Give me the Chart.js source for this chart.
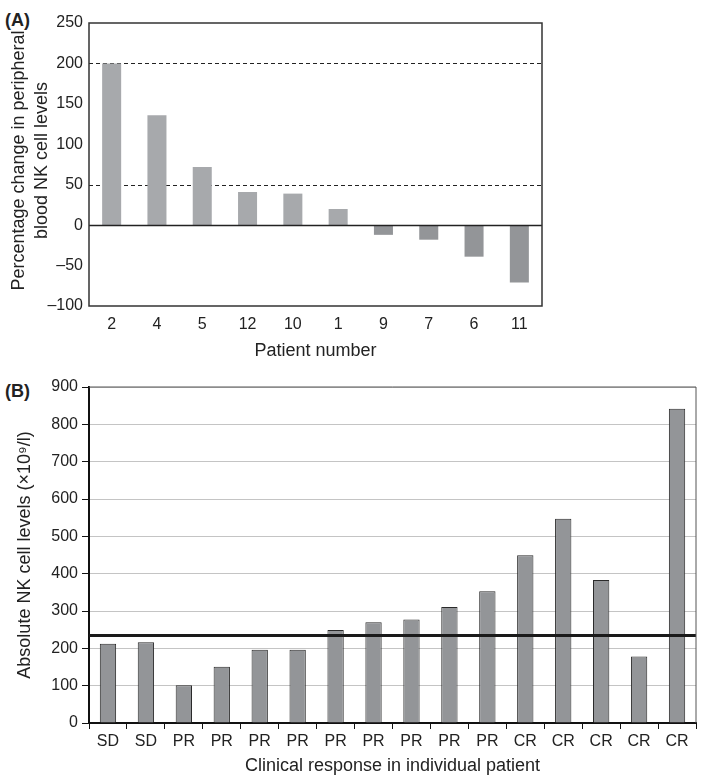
<!DOCTYPE html>
<html>
<head>
<meta charset="utf-8">
<script src="https://cdn.jsdelivr.net/npm/chart.js@4.4.1/dist/chart.umd.min.js"></script>
<style>
  body { margin: 0; background: #fff; font-family: "Liberation Sans", Arial, sans-serif; }
  #wrap { position: relative; width: 704px; height: 784px; }
  .panel { position: absolute; left: 5px; font-weight: bold; font-size: 18px; line-height: 1; color: #222; }
  #cA { position: absolute; left: 0; top: 0; }
  #cB { position: absolute; left: 0; top: 365px; }
</style>
</head>
<body>
<div id="wrap">
  <div class="panel" style="top:11px">(A)</div>
  <div class="panel" style="top:382px">(B)</div>
  <canvas id="cA" width="704" height="365"></canvas>
  <canvas id="cB" width="704" height="419"></canvas>
</div>
<script>
// Panel A - cambio porcentual por paciente
const pacientesA = ['2', '4', '5', '12', '10', '1', '9', '7', '6', '11'];
const cambioA = [200, 136, 72, 41, 39, 20, -12, -18, -39, -71];
const lineasDiscontinuasA = [200, 50];
const tituloYA = ['Percentage change in peripheral', 'blood NK cell levels'];

// Panel B - niveles absolutos por respuesta clínica
const respuestasB = ['SD', 'SD', 'PR', 'PR', 'PR', 'PR', 'PR', 'PR', 'PR', 'PR', 'PR', 'CR', 'CR', 'CR', 'CR', 'CR'];
const nivelesB = [212, 216, 101, 151, 196, 196, 249, 270, 277, 311, 353, 449, 547, 383, 178, 842];
const umbralB = 237;

const fuente = "'Liberation Sans', Arial, sans-serif";
const colorTexto = '#222';

// dibuja líneas horizontales de referencia y el marco del área
const lineasRef = {
  id: 'lineasRef',
  beforeDatasetsDraw(chart, args, opts) {
    dibujar(chart, (opts.lineas || []).filter(l => !l.encima));
  },
  afterDatasetsDraw(chart, args, opts) {
    dibujar(chart, (opts.lineas || []).filter(l => l.encima));
    const a = chart.chartArea;
    const ctx = chart.ctx;
    if (opts.marco) {
      ctx.save();
      ctx.strokeStyle = opts.marco.color;
      ctx.lineWidth = opts.marco.ancho;
      ctx.beginPath();
      if (opts.marco.todo) {
        ctx.rect(a.left, a.top, a.right - a.left, a.bottom - a.top);
      } else {
        ctx.moveTo(a.left, a.top);
        ctx.lineTo(a.right, a.top);
        ctx.lineTo(a.right, a.bottom);
      }
      ctx.stroke();
      ctx.restore();
    }
    // título vertical de varias líneas
    if (opts.tituloY) {
      const t = opts.tituloY;
      const cy = (a.top + a.bottom) / 2 + (t.desplazamiento || 0);
      ctx.save();
      ctx.fillStyle = colorTexto;
      ctx.font = t.tam + 'px ' + fuente;
      ctx.textAlign = 'center';
      ctx.textBaseline = 'middle';
      t.texto.forEach((linea, i) => {
        ctx.save();
        ctx.translate(t.x + i * t.interlineado, cy);
        ctx.rotate(-Math.PI / 2);
        ctx.fillText(linea, 0, 0);
        ctx.restore();
      });
      ctx.restore();
    }
  }
};

function dibujar(chart, lineas) {
  const ctx = chart.ctx;
  const a = chart.chartArea;
  const y = chart.scales.y;
  lineas.forEach(l => {
    const py = Math.round(y.getPixelForValue(l.valor)) + (l.ancho % 2 ? 0.5 : 0);
    ctx.save();
    ctx.strokeStyle = l.color;
    ctx.lineWidth = l.ancho;
    ctx.setLineDash(l.guion || []);
    ctx.beginPath();
    ctx.moveTo(a.left, py);
    ctx.lineTo(a.right, py);
    ctx.stroke();
    ctx.restore();
  });
}

const graficoA = new Chart(document.getElementById('cA'), {
  type: 'bar',
  data: {
    labels: pacientesA,
    datasets: [{
      data: cambioA,
      backgroundColor: cambioA.map(v => v >= 0 ? '#a7a9ac' : '#939598'),
      borderWidth: 0,
      barPercentage: 0.42,
      categoryPercentage: 1
    }]
  },
  options: {
    responsive: false,
    animation: false,
    layout: { padding: { left: 0, right: 162, top: 23, bottom: 0 } },
    plugins: {
      legend: { display: false },
      tooltip: { enabled: false },
      lineasRef: {
        lineas: [
          ...lineasDiscontinuasA.map(v => ({ valor: v, color: '#222', ancho: 1, guion: [4, 3] })),
          { valor: 0, color: '#222', ancho: 1.5, encima: true }
        ],
        marco: { color: '#333', ancho: 1.5, todo: true },
        tituloY: { texto: tituloYA, x: 19, interlineado: 23, tam: 18, desplazamiento: -4 }
      }
    },
    scales: {
      x: {
        grid: { display: false, drawTicks: false },
        border: { display: false },
        ticks: { color: colorTexto, font: { family: fuente, size: 16 }, padding: 9 },
        title: { display: true, text: 'Patient number', color: colorTexto, font: { family: fuente, size: 18 }, padding: { top: 0, bottom: 3 } },
        afterFit(s) { s.height = 59; }
      },
      y: {
        min: -100,
        max: 250,
        grid: { display: false, drawTicks: false },
        border: { display: false },
        ticks: {
          stepSize: 50,
          color: colorTexto,
          font: { family: fuente, size: 16 },
          padding: 6,
          callback: v => String(v).replace('-', '\u2013')
        },
        afterFit(s) { s.width = 89; }
      }
    }
  },
  plugins: [lineasRef]
});

const graficoB = new Chart(document.getElementById('cB'), {
  type: 'bar',
  data: {
    labels: respuestasB,
    datasets: [{
      data: nivelesB,
      backgroundColor: '#939598',
      borderColor: '#2a2a2a',
      borderWidth: 1,
      borderSkipped: 'bottom',
      barPercentage: 0.43,
      categoryPercentage: 1
    }]
  },
  options: {
    responsive: false,
    animation: false,
    layout: { padding: { left: 0, right: 8, top: 22, bottom: 0 } },
    plugins: {
      legend: { display: false },
      tooltip: { enabled: false },
      lineasRef: {
        lineas: [{ valor: umbralB, color: '#1a1a1a', ancho: 3, encima: true }],
        marco: { color: '#555', ancho: 1, todo: false }
      }
    },
    scales: {
      x: {
        grid: { drawOnChartArea: false, drawTicks: true, tickLength: 6, tickColor: '#111', offset: true },
        border: { display: true, color: '#111', width: 2 },
        ticks: { color: colorTexto, font: { family: fuente, size: 16 }, padding: 3 },
        title: { display: true, text: 'Clinical response in individual patient', color: colorTexto, font: { family: fuente, size: 18 }, padding: { top: 0, bottom: 7 } },
        afterFit(s) { s.height = 61; }
      },
      y: {
        min: 0,
        max: 900,
        grid: { color: '#c4c4c4', lineWidth: 1, tickColor: '#111', tickLength: 7 },
        border: { display: true, color: '#111', width: 2 },
        ticks: { stepSize: 100, color: colorTexto, font: { family: fuente, size: 16 }, padding: 4 },
        title: {
          display: true,
          text: 'Absolute NK cell levels (\u00d710\u2079/l)',
          color: colorTexto,
          font: { family: fuente, size: 18, lineHeight: 1.25 },
          padding: { top: 14, bottom: 0 }
        },
        afterFit(s) { s.width = 89; }
      }
    }
  },
  plugins: [lineasRef]
});
</script>
</body>
</html>
